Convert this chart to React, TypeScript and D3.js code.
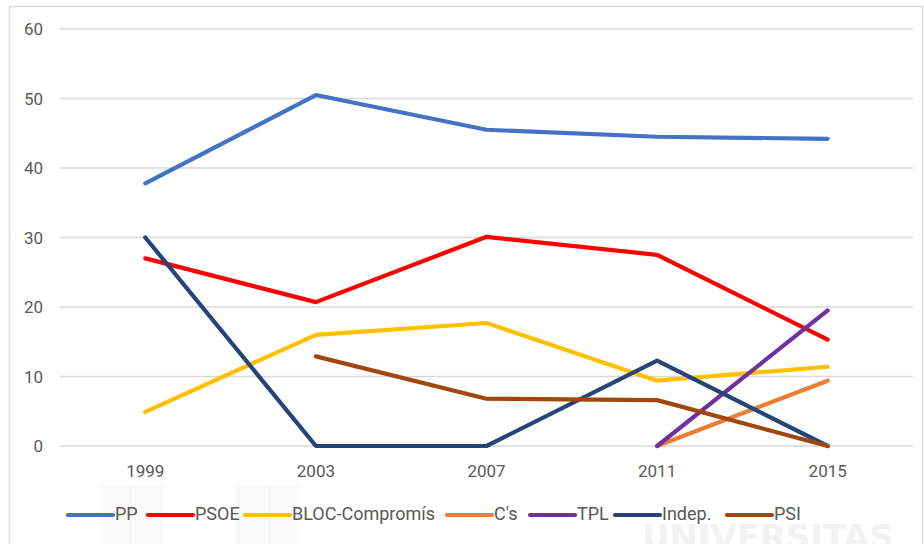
import React from "react";
import * as d3 from "d3";

const years = ["1999", "2003", "2007", "2011", "2015"];
const yTicks = [0, 10, 20, 30, 40, 50, 60];

const seriesNames = ["PP", "PSOE", "BLOC-Compromís", "C's", "TPL", "Indep.", "PSI"];
const seriesColors = ["#4472C4", "#FF0000", "#FFC000", "#ED7D31", "#7030A0", "#264478", "#9E480E"];

const ppValues = [37.8, 50.5, 45.5, 44.5, 44.2];
const psoeValues = [27.0, 20.7, 30.1, 27.5, 15.3];
const blocValues = [4.9, 16.0, 17.7, 9.4, 11.4];
const csValues: (number | null)[] = [null, null, null, 0, 9.4];
const tplValues: (number | null)[] = [null, null, null, 0, 19.5];
const indepValues = [30.0, 0, 0, 12.3, 0];
const psiValues: (number | null)[] = [null, 12.9, 6.8, 6.6, 0];

const allValues = [ppValues, psoeValues, blocValues, csValues, tplValues, indepValues, psiValues];

const drawOrder = [0, 1, 2, 3, 4, 5, 6];

export default function App() {
  const W = 924;
  const H = 544;
  const x = d3.scaleBand<string>().domain(years).range([60, 913]).padding(0);
  const y = d3.scaleLinear().domain([0, 60]).range([446, 29]);
  const cx = (yr: string) => (x(yr) as number) + x.bandwidth() / 2;

  const line = d3
    .line<number | null>()
    .defined((d) => d !== null)
    .x((_, i) => cx(years[i]))
    .y((d) => y(d as number));

  const legendX = [68, 148, 245, 447, 530, 615, 727];
  const legendY = 515;
  const font = "Roboto, 'Noto Sans', sans-serif";

  return (
    <svg width={W} height={H} style={{ position: "absolute", left: 0, top: 0, background: "#fff" }}>
      <rect x={0} y={0} width={W} height={H} fill="#ffffff" />
      {/* faint watermark */}
      <g fill="#f9f9f9">
        <rect x={100} y={485} width={63} height={70} />
        <rect x={235} y={485} width={65} height={70} />
      </g>
      <g stroke="#f1f1f1" strokeWidth={1}>
        <line x1={130} y1={485} x2={130} y2={544} />
        <line x1={270} y1={485} x2={270} y2={544} />
      </g>
      <text x={642} y={549} fontFamily="'DejaVu Sans', sans-serif" fontWeight="bold" fontSize={34} fill="#f2f2f2" textLength={252} lengthAdjust="spacingAndGlyphs">
        UNIVERSITAS
      </text>

      {/* frame */}
      <rect x={9.5} y={6.5} width={913} height={600} fill="none" stroke="#d9d9d9" strokeWidth={1.5} />

      {/* gridlines */}
      {yTicks.map((t) => (
        <line key={t} x1={60} x2={913} y1={y(t)} y2={y(t)} stroke="#d9d9d9" strokeWidth={1.5} />
      ))}

      {/* y tick labels */}
      {yTicks.map((t) => (
        <text key={"l" + t} x={43} y={y(t)} dy="0.36em" textAnchor="end" fontFamily={font} fontSize={17} fill="#595959">
          {t}
        </text>
      ))}

      {/* x labels */}
      {years.map((yr) => (
        <text key={yr} x={cx(yr)} y={477} textAnchor="middle" fontFamily={font} fontSize={17} fill="#595959">
          {yr}
        </text>
      ))}

      {/* series */}
      {drawOrder.map((i) => (
        <path
          key={seriesNames[i]}
          d={line(allValues[i]) || ""}
          fill="none"
          stroke={seriesColors[i]}
          strokeWidth={4.2}
          strokeLinejoin="round"
          strokeLinecap="round"
        />
      ))}

      {/* legend */}
      {seriesNames.map((n, i) => (
        <g key={"lg" + n}>
          <line x1={legendX[i]} x2={legendX[i] + 45} y1={legendY} y2={legendY} stroke={seriesColors[i]} strokeWidth={4.2} strokeLinecap="round" />
          <text x={legendX[i] + 47} y={520} fontFamily={font} fontSize={18} fill="#595959">
            {n}
          </text>
        </g>
      ))}
    </svg>
  );
}
